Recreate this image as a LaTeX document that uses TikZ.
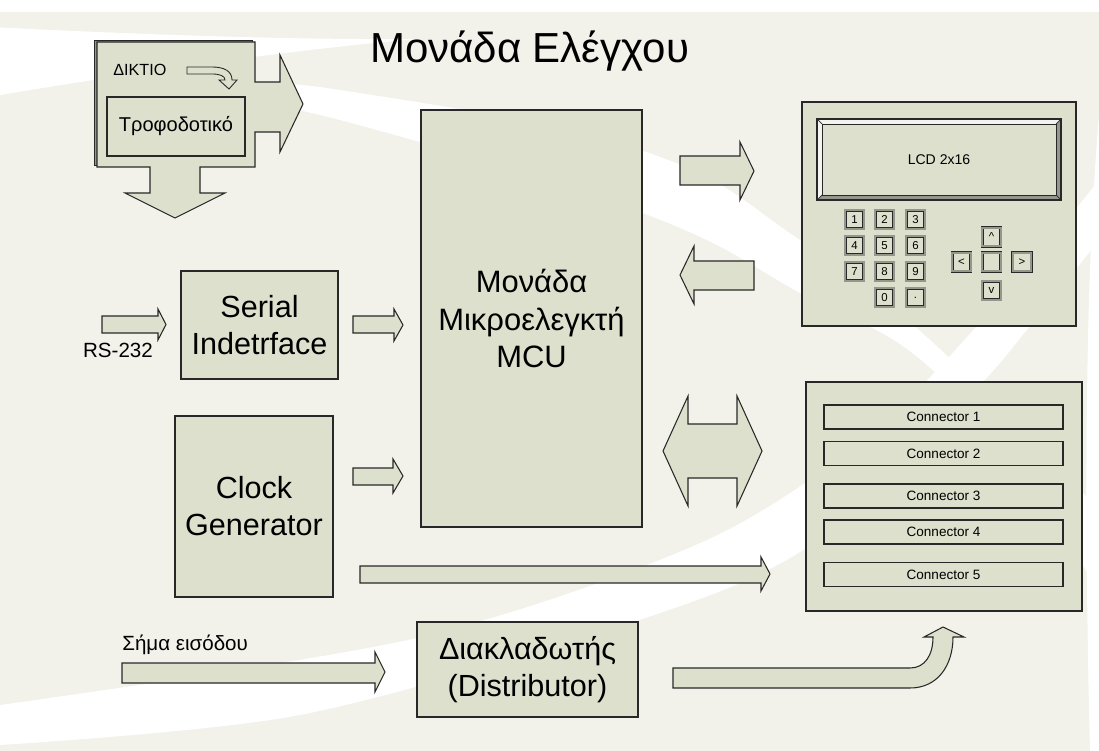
\documentclass[tikz,border=0pt]{standalone}
\usepackage{fontspec}
\setmainfont{Liberation Sans}
\usetikzlibrary{calc,positioning}
\definecolor{CBG}{RGB}{242,242,235}
\definecolor{CBOX}{RGB}{221,224,204}
\definecolor{CLN}{RGB}{40,40,40}
\definecolor{CSH}{RGB}{150,150,140}

\begin{document}
\begin{tikzpicture}[
  box/.style={draw=CLN,fill=CBOX,line width=0.7pt,inner sep=0pt,align=center},
  blk/.style={draw=CLN,fill=CBOX,line width=0.6pt,line join=miter},
  key/.style={draw=CLN,double=CSH,double distance=1.2pt,line width=0.35pt,fill=CBOX,minimum width=0.37cm,minimum height=0.37cm,inner sep=0pt,font=\fontsize{6.5}{7}\selectfont},
  conn/.style={draw=CLN,fill=CBOX,line width=0.6pt,minimum width=4.78cm,minimum height=0.48cm,inner sep=0pt,font=\fontsize{7.7}{9}\selectfont},
  bigtxt/.style={font=\fontsize{17.4}{21}\selectfont}
]
  \useasboundingbox (0,0) rectangle (21.98,-15.02);
  \fill[white] (0,0) rectangle (21.98,-15.02);
  \fill[CBG] (0,-0.24) rectangle (21.98,-15.02);
  \fill[white] (0,-0.55) .. controls (3.0,-0.70) and (6.0,-0.80) .. (8.40,-0.78) .. controls (6.2,-0.95) and (3.0,-1.40) .. (0,-1.90) -- cycle;
  \fill[white] plot[smooth,tension=0.7] coordinates {(4.6,-1.70) (6.8,-1.80) (12.8,-3.00) (16.0,-4.80) (18.6,-6.80) (21.98,-10.2)} -- plot[smooth,tension=0.7] coordinates {(21.98,-11.8) (18.9,-7.64) (16.0,-5.86) (12.8,-4.24) (6.8,-2.40) (4.6,-2.05)} -- cycle;
  \fill[white] (21.98,-2.30) .. controls (21.75,-5.0) and (21.65,-9.0) .. (21.80,-15.02) -- (21.98,-15.02) -- cycle;
  \fill[white] plot[smooth] coordinates {(0,-14.10) (8.34,-12.76) (14.14,-10.80) (17.5,-8.6) (20.0,-6.0) (21.98,-3.6)} -- plot[smooth] coordinates {(21.98,-4.8) (20.6,-6.52) (19.4,-7.9) (16.12,-10.96) (12.6,-12.46) (6.0,-14.30) (0,-14.90)} -- cycle;

  \node[font=\fontsize{23.9}{28}\selectfont,anchor=base] (title) at (10.59,-1.26) {Μονάδα Ελέγχου};

  \draw[CLN,fill=CSH,line width=0.5pt] (1.88,-0.80) rectangle (5.04,-3.30);
  \draw[blk] (1.94,-0.84) -- (5.10,-0.84) -- (5.10,-1.64) -- (5.60,-1.64) -- (5.60,-1.10) -- (6.06,-2.08) -- (5.60,-3.04) -- (5.60,-2.64) -- (5.10,-2.64) -- (5.10,-3.34) -- (4.00,-3.34) -- (4.00,-3.86) -- (4.50,-3.86) -- (3.50,-4.36) -- (2.50,-3.86) -- (3.00,-3.86) -- (3.00,-3.34) -- (1.94,-3.34) -- cycle;
  \node[box,minimum width=2.76cm,minimum height=1.18cm,font=\fontsize{11.4}{13}\selectfont] (psu) at (3.52,-2.53) {Τροφοδοτικό};
  \node[anchor=west,inner sep=0pt,font=\fontsize{9.2}{10}\selectfont] (net) at (2.26,-1.40) {ΔΙΚΤΙΟ};
  \draw[blk,line width=0.5pt] (3.74,-1.34) -- (4.24,-1.34) .. controls (4.48,-1.34) and (4.64,-1.42) .. (4.64,-1.60) -- (4.74,-1.60) -- (4.58,-1.78) -- (4.38,-1.60) -- (4.50,-1.60) .. controls (4.50,-1.52) and (4.40,-1.48) .. (4.24,-1.48) -- (3.74,-1.48) -- cycle;

  \node[box,minimum width=4.42cm,minimum height=8.34cm,font=\fontsize{17.6}{21.3}\selectfont] (mcu) at (10.63,-6.37) {Μονάδα\\Μικροελεγκτή\\MCU};
  \node[box,minimum width=3.14cm,minimum height=2.16cm,bigtxt] (ser) at (5.19,-6.50) {Serial\\Indetrface};
  \node[box,minimum width=3.16cm,minimum height=3.62cm,bigtxt] (clk) at (5.08,-10.13) {Clock\\Generator};
  \node[box,minimum width=4.42cm,minimum height=1.90cm,bigtxt] (dist) at (10.55,-13.39) {Διακλαδωτής\\(Distributor)};

  \node[font=\fontsize{11.7}{13}\selectfont,inner sep=0pt] (rs) at (2.36,-7.00) {RS-232};
  \draw[blk] (2.04,-6.32) -- (3.16,-6.32) -- (3.16,-6.18) -- (3.32,-6.49) -- (3.16,-6.80) -- (3.16,-6.66) -- (2.04,-6.66) -- cycle;
  \draw[blk] (7.06,-6.32) -- (7.88,-6.32) -- (7.88,-6.18) -- (8.06,-6.50) -- (7.88,-6.82) -- (7.88,-6.66) -- (7.06,-6.66) -- cycle;
  \draw[blk] (7.06,-9.36) -- (7.86,-9.36) -- (7.86,-9.18) -- (8.06,-9.52) -- (7.86,-9.86) -- (7.86,-9.70) -- (7.06,-9.70) -- cycle;
  \draw[blk] (7.20,-11.32) -- (15.22,-11.32) -- (15.22,-11.14) -- (15.40,-11.48) -- (15.22,-11.82) -- (15.22,-11.66) -- (7.20,-11.66) -- cycle;
  \node[anchor=base west,inner sep=0pt,font=\fontsize{11.7}{13}\selectfont] (sig) at (2.44,-13.00) {Σήμα εισόδου};
  \draw[blk] (2.44,-13.26) -- (7.50,-13.26) -- (7.50,-13.04) -- (7.70,-13.44) -- (7.50,-13.84) -- (7.50,-13.66) -- (2.44,-13.66) -- cycle;
  \draw[blk] (13.46,-13.36) -- (18.20,-13.36) .. controls (18.50,-13.36) and (18.66,-13.10) .. (18.66,-12.74) -- (18.48,-12.74) -- (18.86,-12.54) -- (19.28,-12.74) -- (19.06,-12.74) .. controls (19.06,-13.30) and (18.76,-13.76) .. (18.20,-13.76) -- (13.46,-13.76) -- cycle;

  \draw[blk] (13.60,-3.12) -- (14.80,-3.12) -- (14.80,-2.84) -- (15.08,-3.42) -- (14.80,-4.00) -- (14.80,-3.70) -- (13.60,-3.70) -- cycle;
  \draw[blk] (15.08,-5.22) -- (13.88,-5.22) -- (13.88,-4.92) -- (13.60,-5.50) -- (13.88,-6.08) -- (13.88,-5.80) -- (15.08,-5.80) -- cycle;
  \draw[blk] (13.26,-9.02) -- (13.76,-7.92) -- (13.76,-8.48) -- (14.74,-8.48) -- (14.74,-7.92) -- (15.24,-9.02) -- (14.74,-10.12) -- (14.74,-9.56) -- (13.76,-9.56) -- (13.76,-10.12) -- cycle;

  \node[box,minimum width=5.48cm,minimum height=4.48cm] (lcdp) at (18.78,-4.28) {};
  \fill[CSH] (16.34,-2.38) rectangle (21.22,-4.00);
  \fill[CBOX!35!white] (16.34,-2.38) -- (21.22,-2.38) -- (21.12,-2.48) -- (16.44,-2.48) -- cycle;
  \fill[CBOX!35!white] (16.34,-2.38) -- (16.44,-2.48) -- (16.44,-3.90) -- (16.34,-4.00) -- cycle;
  \draw[CLN,line width=0.6pt] (16.34,-2.38) rectangle (21.22,-4.00);
  \draw[CLN,line width=0.4pt] (16.34,-2.38) -- (16.44,-2.48) (21.22,-2.38) -- (21.12,-2.48) (16.34,-4.00) -- (16.44,-3.90) (21.22,-4.00) -- (21.12,-3.90);
  \node[box,line width=0.5pt,minimum width=4.68cm,minimum height=1.42cm,font=\fontsize{8}{9}\selectfont] (lcd) at (18.78,-3.19) {LCD 2x16};
  \node[key] (k1) at (17.09,-4.39) {1};
  \node[key] (k2) at (17.69,-4.39) {2};
  \node[key] (k3) at (18.31,-4.39) {3};
  \node[key] (k4) at (17.09,-4.91) {4};
  \node[key] (k5) at (17.69,-4.91) {5};
  \node[key] (k6) at (18.31,-4.91) {6};
  \node[key] (k7) at (17.09,-5.43) {7};
  \node[key] (k8) at (17.69,-5.43) {8};
  \node[key] (k9) at (18.31,-5.43) {9};
  \node[key] (k0) at (17.69,-5.95) {0};
  \node[key] (kdot) at (18.31,-5.95) {.};
  \node[key] (kup) at (19.83,-4.74) {\textasciicircum};
  \node[key] (kok) at (19.83,-5.24) {};
  \node[key] (kleft) at (19.23,-5.24) {<};
  \node[key] (kright) at (20.44,-5.24) {>};
  \node[key] (kdown) at (19.83,-5.81) {v};

  \node[box,minimum width=5.52cm,minimum height=4.58cm] (cpan) at (18.88,-9.93) {};
  \node[conn] (c1) at (18.87,-8.34) {Connector 1};
  \node[conn] (c2) at (18.87,-9.07) {Connector 2};
  \node[conn] (c3) at (18.87,-9.92) {Connector 3};
  \node[conn] (c4) at (18.87,-10.64) {Connector 4};
  \node[conn] (c5) at (18.87,-11.49) {Connector 5};
\end{tikzpicture}
\end{document}
